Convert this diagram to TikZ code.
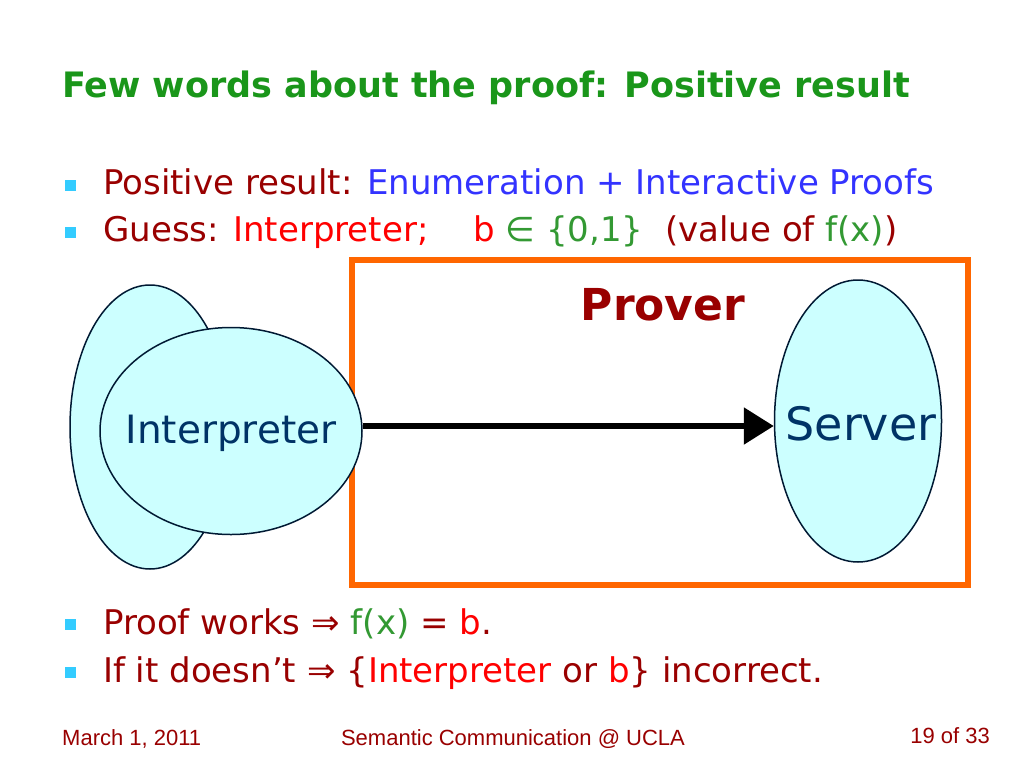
\documentclass[tikz,border=0pt]{standalone}
\usepackage{fontspec}
\setmainfont{DejaVu Sans}
\newfontfamily\footfont{Liberation Sans}
\usetikzlibrary{shapes.geometric,arrows.meta}

\definecolor{titlegreen}{HTML}{1A961A}
\definecolor{darkred}{HTML}{990000}
\definecolor{textblue}{HTML}{3333FF}
\definecolor{textred}{HTML}{FF0000}
\definecolor{textgreen}{HTML}{339933}
\definecolor{boxorange}{HTML}{FF6600}
\definecolor{blobfill}{HTML}{CCFFFF}
\definecolor{navy}{HTML}{003366}
\definecolor{bulletblue}{HTML}{33CCFF}

\begin{document}
\begin{tikzpicture}[x=1pt, y=-1pt,
    blob/.style={ellipse, draw=navy!50!black, fill=blobfill, line width=1.5pt, inner sep=0pt},
    blobtext/.style={text=navy, inner sep=0pt},
    item/.style={anchor=base west, text=darkred, font=\fontsize{34}{34}\selectfont, inner sep=0pt},
    sq/.style={fill=bulletblue, minimum size=11pt, inner sep=0pt},
    foot/.style={text=darkred, font=\footfont\fontsize{22}{22}\selectfont, inner sep=0pt}]

    \useasboundingbox (0,0) rectangle (1024,768);
    \fill[white] (0,0) rectangle (1024,768);

    \node[anchor=base west, text=titlegreen, inner sep=0pt, font=\bfseries\fontsize{35}{35}\selectfont] (title) at (62,97) {Few words about the proof: Positive result};

    % bullets above the picture
    \node[sq] (B1) at (70,185) {};
    \node[item] (L1) at (103,194) {Positive result: \textcolor{textblue}{Enumeration + Interactive Proofs}};
    \node[sq] (B2) at (70,232) {};
    \node[item] (L2) at (103,241) {Guess: \textcolor{textred}{Interpreter;}\quad\ \textcolor{textred}{b} \textcolor{textgreen}{∈ \{0,1\}}\ \ (value of \textcolor{textgreen}{f(x)})};

    % prover box
    \node[draw=boxorange, line width=6pt, minimum width=616pt, minimum height=325pt, inner sep=0pt] (proverbox) at (660,422.5) {};
    \node[text=darkred, font=\bfseries\fontsize{44}{44}\selectfont, inner sep=0pt] (prover) at (663,305) {Prover};

    \node[blob, minimum width=160pt, minimum height=284pt] (back) at (150,427) {};
    \node[blob, minimum width=262pt, minimum height=207pt] (interp) at (231,431) {};
    \node[blobtext, font=\fontsize{39}{39}\selectfont] (interptext) at (231,433) {Interpreter};

    \node[blob, minimum width=167pt, minimum height=282pt] (server) at (858,421) {};
    \node[blobtext, font=\fontsize{46}{46}\selectfont] (servertext) at (861,424) {Server};

    \draw[line width=5.5pt, -{Triangle[length=30pt,width=36pt]}] ([yshift=5pt]interp.east) -- ([yshift=5pt]interp.east -| server.west);

    % bullets below the picture
    \node[sq] (B3) at (70,624) {};
    \node[item] (L3) at (103,634) {Proof works ⇒ \textcolor{textgreen}{f(x)} = \textcolor{textred}{b}.};
    \node[sq] (B4) at (70,672) {};
    \node[item] (L4) at (103,682) {If it doesn’t ⇒ \{\textcolor{textred}{Interpreter} or \textcolor{textred}{b}\} incorrect.};

    \node[foot, anchor=base west] (date) at (62,745) {March 1, 2011};
    \node[foot, anchor=base] (event) at (513,745) {Semantic Communication @ UCLA};
    \node[foot, anchor=base east] (page) at (990,743) {19 of 33};
\end{tikzpicture}
\end{document}
